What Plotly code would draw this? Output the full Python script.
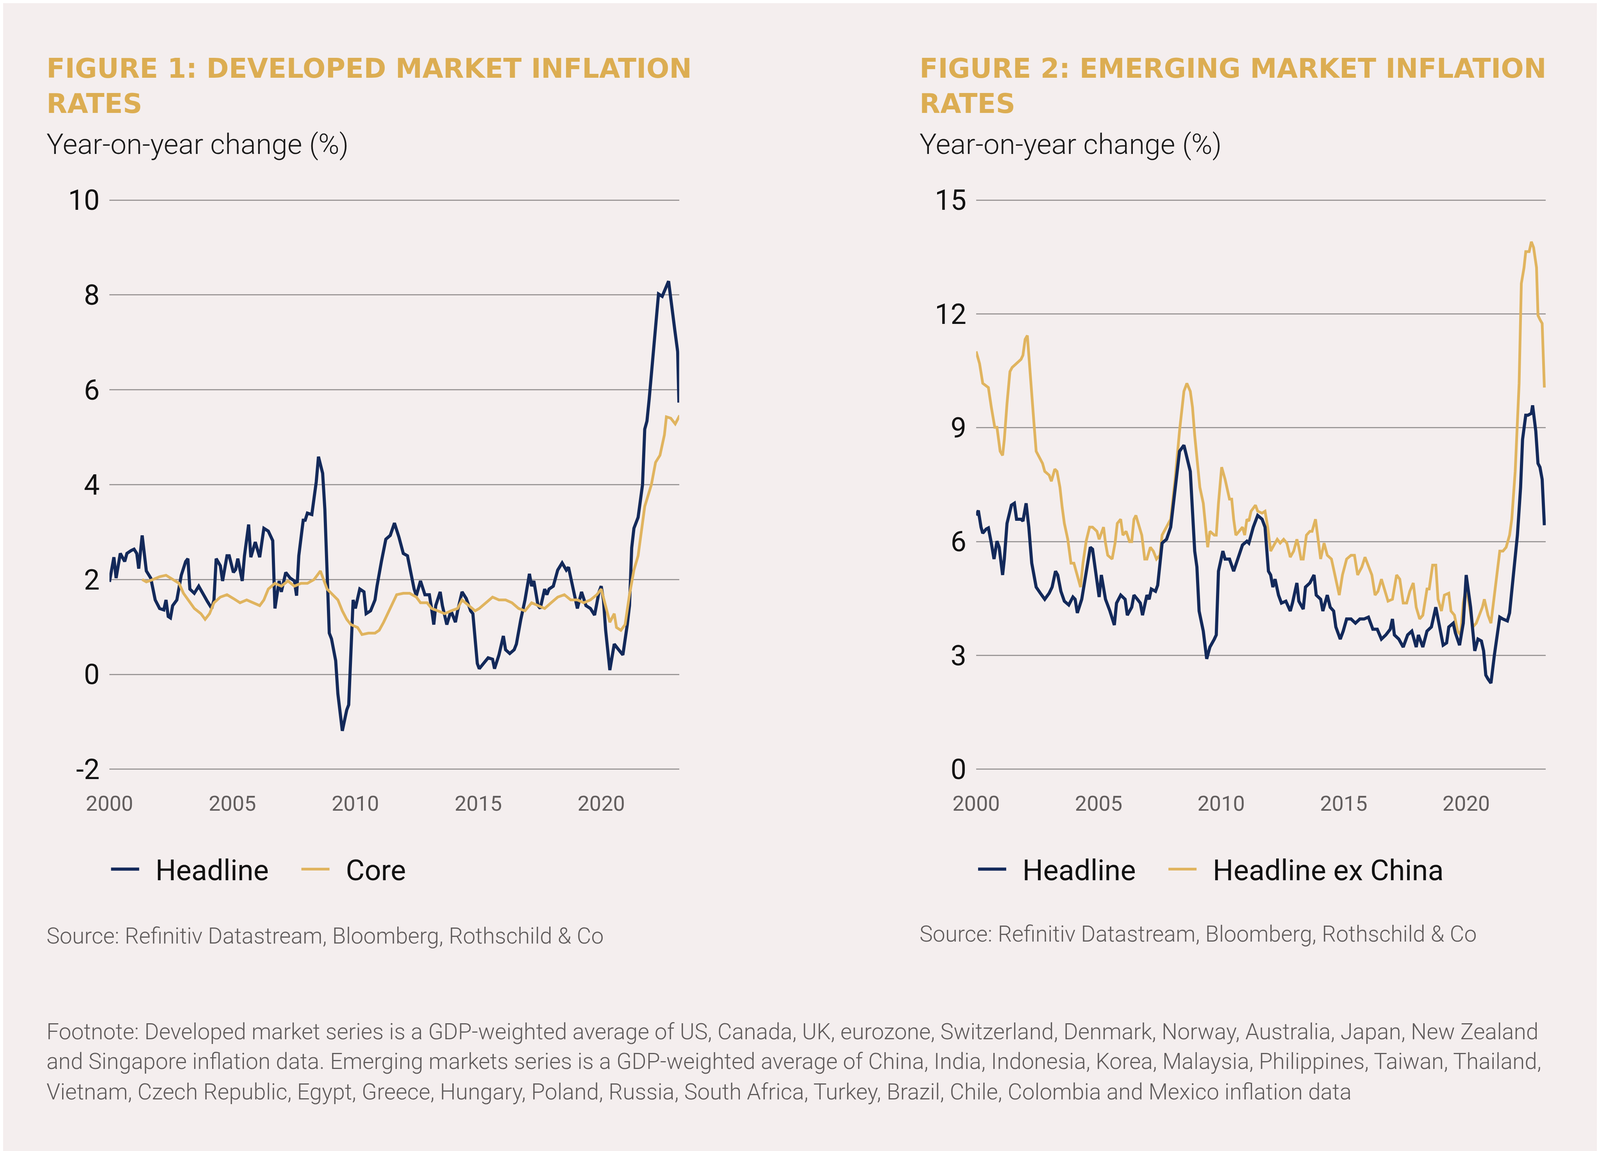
import plotly.graph_objects as go

# ---------------- data ----------------
DM_HEAD_X = [2000.00, 2000.18, 2000.27, 2000.44, 2000.62, 2000.71, 2000.88, 2001.00, 2001.11, 2001.19,
             2001.33, 2001.50, 2001.68, 2001.86, 2002.04, 2002.21, 2002.30, 2002.39, 2002.48, 2002.57,
             2002.74, 2002.92, 2003.10, 2003.19, 2003.27, 2003.45, 2003.63, 2003.81, 2003.98, 2004.16,
             2004.25, 2004.34, 2004.51, 2004.60, 2004.78, 2004.87, 2005.04, 2005.13, 2005.22, 2005.40,
             2005.49, 2005.66, 2005.75, 2005.93, 2006.11, 2006.28, 2006.46, 2006.64, 2006.73, 2006.90,
             2006.99, 2007.17, 2007.35, 2007.52, 2007.61, 2007.70, 2007.88, 2007.96, 2008.05, 2008.23,
             2008.41, 2008.50, 2008.67, 2008.76, 2008.94, 2009.03, 2009.20, 2009.29, 2009.47, 2009.65,
             2009.73, 2009.91, 2010.00, 2010.18, 2010.35, 2010.44, 2010.62, 2010.80, 2010.88, 2011.06,
             2011.24, 2011.42, 2011.59, 2011.77, 2011.95, 2012.12, 2012.21, 2012.39, 2012.48, 2012.65,
             2012.83, 2013.01, 2013.10, 2013.19, 2013.27, 2013.45, 2013.54, 2013.72, 2013.89, 2014.07,
             2014.16, 2014.34, 2014.51, 2014.69, 2014.78, 2014.96, 2015.04, 2015.22, 2015.40, 2015.58,
             2015.66, 2015.84, 2015.93, 2016.02, 2016.11, 2016.28, 2016.46, 2016.55, 2016.73, 2016.90,
             2017.08, 2017.17, 2017.26, 2017.43, 2017.52, 2017.70, 2017.79, 2017.88, 2018.05, 2018.23,
             2018.41, 2018.58, 2018.67, 2018.85, 2019.03, 2019.20, 2019.38, 2019.56, 2019.73, 2019.91,
             2020.00, 2020.09, 2020.18, 2020.35, 2020.53, 2020.71, 2020.88, 2021.06, 2021.15, 2021.24,
             2021.33, 2021.50, 2021.59, 2021.68, 2021.77, 2021.86, 2021.95, 2022.16, 2022.33, 2022.48,
             2022.74, 2022.99, 2023.11, 2023.16]
DM_HEAD_Y = [1.95, 2.47, 2.03, 2.55, 2.38, 2.55, 2.61, 2.64, 2.55, 2.23,
             2.93, 2.18, 2.03, 1.57, 1.39, 1.36, 1.57, 1.22, 1.19, 1.45,
             1.57, 2.09, 2.38, 2.44, 1.80, 1.71, 1.86, 1.68, 1.54, 1.39,
             1.57, 2.44, 2.29, 1.97, 2.50, 2.50, 2.15, 2.21, 2.44, 1.97,
             2.50, 3.16, 2.47, 2.79, 2.47, 3.08, 3.02, 2.82, 1.39, 1.97,
             1.74, 2.15, 2.03, 1.97, 1.66, 2.50, 3.25, 3.25, 3.40, 3.37,
             4.06, 4.59, 4.24, 3.48, 0.87, 0.75, 0.29, -0.41, -1.19, -0.75,
             -0.64, 1.57, 1.39, 1.80, 1.74, 1.28, 1.34, 1.57, 1.86, 2.38,
             2.85, 2.93, 3.19, 2.90, 2.55, 2.50, 2.26, 1.80, 1.66, 1.97,
             1.68, 1.68, 1.39, 1.05, 1.45, 1.74, 1.45, 1.05, 1.34, 1.10,
             1.34, 1.74, 1.60, 1.34, 1.28, 0.23, 0.12, 0.23, 0.35, 0.32,
             0.12, 0.41, 0.58, 0.81, 0.52, 0.44, 0.52, 0.64, 1.16, 1.57,
             2.12, 1.86, 1.97, 1.45, 1.39, 1.80, 1.68, 1.80, 1.86, 2.20,
             2.35, 2.20, 2.26, 1.80, 1.39, 1.74, 1.45, 1.39, 1.25, 1.74,
             1.86, 1.57, 0.93, 0.09, 0.64, 0.52, 0.41, 1.05, 1.45, 2.67,
             3.08, 3.31, 3.66, 4.00, 5.17, 5.34, 5.80, 6.98, 8.02, 7.97,
             8.29, 7.27, 6.80, 5.73]

DM_CORE_X = [2001.33, 2001.50, 2001.77, 2002.04, 2002.30, 2002.48, 2002.65, 2002.83, 2003.01, 2003.19,
             2003.45, 2003.72, 2003.89, 2004.07, 2004.25, 2004.51, 2004.78, 2005.04, 2005.31, 2005.58,
             2005.84, 2006.11, 2006.28, 2006.46, 2006.73, 2006.99, 2007.26, 2007.52, 2007.79, 2008.05,
             2008.32, 2008.58, 2008.85, 2009.12, 2009.29, 2009.47, 2009.65, 2009.82, 2010.09, 2010.27,
             2010.53, 2010.80, 2010.97, 2011.15, 2011.42, 2011.68, 2011.95, 2012.21, 2012.48, 2012.65,
             2012.92, 2013.10, 2013.36, 2013.63, 2013.89, 2014.16, 2014.34, 2014.60, 2014.87, 2015.04,
             2015.31, 2015.58, 2015.84, 2016.11, 2016.37, 2016.64, 2016.90, 2017.17, 2017.43, 2017.70,
             2017.96, 2018.23, 2018.50, 2018.76, 2019.03, 2019.29, 2019.56, 2019.82, 2020.00, 2020.18,
             2020.35, 2020.53, 2020.62, 2020.80, 2020.97, 2021.15, 2021.33, 2021.50, 2021.77, 2022.04,
             2022.21, 2022.39, 2022.57, 2022.65, 2022.83, 2023.01, 2023.19]
DM_CORE_Y = [2.00, 1.95, 2.00, 2.06, 2.09, 2.03, 1.97, 1.92, 1.71, 1.57,
             1.39, 1.28, 1.16, 1.28, 1.51, 1.63, 1.68, 1.60, 1.51, 1.57,
             1.51, 1.45, 1.57, 1.80, 1.92, 1.86, 1.97, 1.86, 1.92, 1.92,
             2.00, 2.18, 1.80, 1.66, 1.57, 1.34, 1.16, 1.05, 0.99, 0.84,
             0.87, 0.87, 0.93, 1.10, 1.39, 1.68, 1.71, 1.71, 1.63, 1.51,
             1.51, 1.39, 1.34, 1.28, 1.34, 1.39, 1.57, 1.45, 1.34, 1.39,
             1.51, 1.63, 1.57, 1.57, 1.51, 1.39, 1.34, 1.51, 1.45, 1.39,
             1.51, 1.63, 1.68, 1.57, 1.57, 1.51, 1.57, 1.68, 1.80, 1.45,
             1.10, 1.28, 0.99, 0.93, 1.05, 1.68, 2.20, 2.50, 3.54, 4.00,
             4.47, 4.62, 5.05, 5.43, 5.40, 5.28, 5.46]

EM_HEAD_X = [2000.00, 2000.09, 2000.20, 2000.27, 2000.41, 2000.50, 2000.62, 2000.73, 2000.85, 2000.94,
             2001.08, 2001.15, 2001.26, 2001.44, 2001.56, 2001.65, 2001.83, 2001.91, 2002.04, 2002.15,
             2002.27, 2002.45, 2002.62, 2002.80, 2002.98, 2003.10, 2003.24, 2003.33, 2003.46, 2003.60,
             2003.78, 2003.95, 2004.04, 2004.13, 2004.31, 2004.49, 2004.66, 2004.75, 2004.93, 2005.02,
             2005.11, 2005.28, 2005.46, 2005.64, 2005.73, 2005.90, 2006.08, 2006.17, 2006.35, 2006.44,
             2006.58, 2006.70, 2006.79, 2006.97, 2007.06, 2007.15, 2007.32, 2007.41, 2007.59, 2007.77,
             2007.94, 2008.12, 2008.30, 2008.48, 2008.65, 2008.74, 2008.92, 2009.01, 2009.10, 2009.27,
             2009.41, 2009.54, 2009.72, 2009.80, 2009.89, 2010.07, 2010.16, 2010.34, 2010.51, 2010.69,
             2010.87, 2011.05, 2011.13, 2011.31, 2011.49, 2011.67, 2011.79, 2011.93, 2012.02, 2012.11,
             2012.20, 2012.34, 2012.46, 2012.64, 2012.82, 2012.91, 2013.09, 2013.17, 2013.35, 2013.44,
             2013.62, 2013.79, 2013.88, 2014.06, 2014.15, 2014.33, 2014.45, 2014.59, 2014.68, 2014.86,
             2014.98, 2015.12, 2015.30, 2015.48, 2015.66, 2015.83, 2016.01, 2016.19, 2016.37, 2016.54,
             2016.72, 2016.90, 2016.99, 2017.07, 2017.25, 2017.43, 2017.61, 2017.78, 2017.96, 2018.05,
             2018.23, 2018.40, 2018.58, 2018.76, 2018.94, 2019.06, 2019.20, 2019.29, 2019.47, 2019.56,
             2019.73, 2019.88, 2020.00, 2020.18, 2020.27, 2020.35, 2020.48, 2020.62, 2020.71, 2020.80,
             2020.89, 2021.01, 2021.15, 2021.29, 2021.37, 2021.50, 2021.68, 2021.77, 2021.95, 2022.09,
             2022.22, 2022.30, 2022.43, 2022.52, 2022.66, 2022.71, 2022.84, 2022.93, 2023.01, 2023.10,
             2023.19]
EM_HEAD_Y = [6.69, 6.82, 6.38, 6.22, 6.33, 6.36, 5.96, 5.54, 6.01, 5.85,
             5.12, 5.54, 6.48, 6.96, 7.01, 6.59, 6.59, 6.54, 7.01, 6.38,
             5.43, 4.80, 4.64, 4.48, 4.64, 4.80, 5.22, 5.12, 4.69, 4.43,
             4.33, 4.54, 4.48, 4.12, 4.48, 5.22, 5.85, 5.80, 4.91, 4.54,
             5.12, 4.48, 4.17, 3.80, 4.38, 4.59, 4.48, 4.06, 4.27, 4.59,
             4.48, 4.38, 4.06, 4.59, 4.48, 4.75, 4.69, 4.85, 5.96, 6.06,
             6.38, 7.43, 8.38, 8.54, 8.06, 7.85, 5.75, 5.33, 4.17, 3.64,
             2.91, 3.22, 3.43, 3.54, 5.22, 5.75, 5.54, 5.54, 5.22, 5.54,
             5.91, 6.01, 5.96, 6.38, 6.69, 6.59, 6.38, 5.22, 5.12, 4.80,
             5.01, 4.59, 4.38, 4.43, 4.17, 4.38, 4.91, 4.43, 4.22, 4.80,
             4.91, 5.12, 4.59, 4.48, 4.17, 4.59, 4.27, 4.17, 3.75, 3.43,
             3.64, 3.96, 3.96, 3.85, 3.96, 3.96, 4.01, 3.69, 3.69, 3.43,
             3.54, 3.69, 3.96, 3.54, 3.43, 3.22, 3.54, 3.64, 3.22, 3.54,
             3.22, 3.64, 3.75, 4.27, 3.64, 3.27, 3.33, 3.75, 3.85, 3.59,
             3.27, 3.85, 5.12, 4.27, 3.64, 3.12, 3.43, 3.38, 3.12, 2.48,
             2.38, 2.27, 3.01, 3.64, 4.01, 3.96, 3.91, 4.12, 5.22, 6.17,
             7.43, 8.69, 9.33, 9.33, 9.38, 9.59, 8.91, 8.06, 7.96, 7.64,
             6.43]

EM_EXCN_X = [2000.00, 2000.14, 2000.27, 2000.37, 2000.50, 2000.62, 2000.76, 2000.85, 2000.98, 2001.08,
             2001.15, 2001.26, 2001.38, 2001.47, 2001.65, 2001.83, 2001.91, 2002.00, 2002.09, 2002.18,
             2002.27, 2002.36, 2002.45, 2002.62, 2002.71, 2002.80, 2002.98, 2003.07, 2003.21, 2003.30,
             2003.42, 2003.51, 2003.60, 2003.74, 2003.87, 2003.99, 2004.13, 2004.26, 2004.36, 2004.49,
             2004.63, 2004.75, 2004.93, 2005.02, 2005.20, 2005.28, 2005.37, 2005.55, 2005.67, 2005.76,
             2005.90, 2005.99, 2006.12, 2006.26, 2006.35, 2006.44, 2006.52, 2006.65, 2006.76, 2006.88,
             2006.97, 2007.11, 2007.23, 2007.36, 2007.50, 2007.59, 2007.77, 2007.94, 2008.12, 2008.30,
             2008.48, 2008.60, 2008.74, 2008.83, 2008.92, 2009.01, 2009.13, 2009.27, 2009.36, 2009.45,
             2009.54, 2009.72, 2009.80, 2009.89, 2010.02, 2010.16, 2010.34, 2010.43, 2010.51, 2010.60,
             2010.73, 2010.87, 2010.96, 2011.05, 2011.13, 2011.22, 2011.40, 2011.49, 2011.67, 2011.79,
             2011.90, 2012.02, 2012.20, 2012.29, 2012.41, 2012.55, 2012.68, 2012.82, 2012.96, 2013.09,
             2013.17, 2013.26, 2013.35, 2013.48, 2013.62, 2013.71, 2013.85, 2013.97, 2014.06, 2014.20,
             2014.33, 2014.50, 2014.68, 2014.82, 2014.95, 2015.12, 2015.30, 2015.44, 2015.57, 2015.74,
             2015.87, 2016.01, 2016.15, 2016.28, 2016.40, 2016.54, 2016.68, 2016.81, 2016.99, 2017.16,
             2017.29, 2017.43, 2017.57, 2017.70, 2017.84, 2017.96, 2018.10, 2018.23, 2018.40, 2018.49,
             2018.63, 2018.76, 2018.85, 2018.99, 2019.11, 2019.29, 2019.38, 2019.52, 2019.65, 2019.77,
             2019.88, 2020.00, 2020.14, 2020.27, 2020.41, 2020.53, 2020.66, 2020.74, 2020.89, 2021.01,
             2021.15, 2021.29, 2021.37, 2021.50, 2021.63, 2021.77, 2021.86, 2022.00, 2022.09, 2022.16,
             2022.25, 2022.36, 2022.43, 2022.57, 2022.66, 2022.75, 2022.87, 2022.93, 2023.01, 2023.10,
             2023.19]
EM_EXCN_Y = [11.01, 10.69, 10.17, 10.12, 10.06, 9.54, 9.01, 9.01, 8.38, 8.27,
             8.69, 9.64, 10.48, 10.59, 10.69, 10.80, 10.91, 11.33, 11.43, 10.59,
             9.75, 9.12, 8.38, 8.17, 8.06, 7.85, 7.75, 7.59, 7.91, 7.85,
             7.43, 6.91, 6.48, 6.06, 5.43, 5.43, 5.12, 4.80, 5.43, 6.01,
             6.38, 6.38, 6.27, 6.06, 6.38, 5.96, 5.64, 5.54, 5.96, 6.48,
             6.59, 6.17, 6.27, 6.00, 6.00, 6.59, 6.69, 6.38, 6.17, 5.54,
             5.54, 5.85, 5.75, 5.54, 5.64, 6.17, 6.38, 6.59, 7.64, 8.91,
             9.96, 10.17, 9.96, 9.54, 8.80, 8.27, 7.43, 7.01, 6.38, 5.85,
             6.27, 6.17, 6.17, 7.01, 7.96, 7.64, 7.12, 7.12, 6.59, 6.17,
             6.27, 6.38, 6.17, 6.59, 6.54, 6.80, 6.96, 6.80, 6.75, 6.80,
             6.38, 5.75, 5.96, 6.06, 5.96, 6.06, 5.96, 5.59, 5.75, 6.06,
             5.85, 5.54, 5.54, 6.17, 6.27, 6.27, 6.59, 6.06, 5.54, 5.96,
             5.64, 5.54, 5.01, 4.59, 5.12, 5.54, 5.64, 5.64, 5.12, 5.33,
             5.59, 5.33, 5.12, 4.59, 4.69, 5.01, 4.69, 4.43, 4.48, 5.12,
             5.01, 4.38, 4.38, 4.69, 4.91, 4.27, 3.96, 4.06, 4.75, 4.75,
             5.38, 5.38, 4.48, 4.17, 4.59, 4.64, 4.17, 4.06, 3.64, 3.54,
             4.38, 4.80, 4.27, 3.75, 3.85, 4.06, 4.27, 4.48, 4.06, 3.85,
             4.59, 5.22, 5.75, 5.75, 5.85, 6.17, 6.59, 7.85, 9.33, 10.17,
             12.80, 13.22, 13.64, 13.64, 13.90, 13.75, 13.22, 11.96, 11.85, 11.75,
             10.06]

X_TICKS = [2000, 2005, 2010, 2015, 2020]
DM_Y_TICKS = [-2, 0, 2, 4, 6, 8, 10]
DM_Y_TICK_TEXT = ["-2", "0", "2", "4", "6", "8", "10"]
EM_Y_TICKS = [0, 3, 6, 9, 12, 15]

TITLE_1 = "FIGURE 1: DEVELOPED MARKET INFLATION<br>RATES"
TITLE_2 = "FIGURE 2: EMERGING MARKET INFLATION<br>RATES"
SUBTITLE = "Year-on-year change (%)"
SOURCE = "Source: Refinitiv Datastream, Bloomberg, Rothschild & Co"
FOOTNOTE_LINES = [
    "Footnote: Developed market series is a GDP-weighted average of US, Canada, UK, eurozone, Switzerland, Denmark, Norway, Australia, Japan, New Zealand",
    "and Singapore inflation data. Emerging markets series is a GDP-weighted average of China, India, Indonesia, Korea, Malaysia, Philippines, Taiwan, Thailand,",
    "Vietnam, Czech Republic, Egypt, Greece, Hungary, Poland, Russia, South Africa, Turkey, Brazil, Chile, Colombia and Mexico inflation data",
]

# ---------------- geometry ----------------
# The page is shown in a 4096x2946 viewport with the default 8px body margin,
# so the figure is sized to fill exactly what is visible.
VIEW_W, VIEW_H = 4096, 2946
BODY_MARGIN = 8
FIG_W, FIG_H = VIEW_W - BODY_MARGIN, VIEW_H - BODY_MARGIN
REF_W, REF_H = 4224, 2946          # layout positions below are measured in reference pixels


def px(rx):
    return (rx * VIEW_W / REF_W - BODY_MARGIN) / FIG_W


def py(ry):
    return 1 - (ry * VIEW_H / REF_H - BODY_MARGIN) / FIG_H


# ---------------- style ----------------
BG = "#f4eeee"
NAVY = "#13295a"
GOLD = "#e0b45f"
TITLE_GOLD = "#dcad52"
GRID = "#9c9898"
FONT = "Roboto"
LEAD = "\u00a0\u00a0"
TRAIL = "\u00a0\u00a0\u00a0\u00a0"

fig = go.Figure()
fig.add_trace(go.Scatter(x=DM_HEAD_X, y=DM_HEAD_Y, mode="lines", name=LEAD + "Headline" + TRAIL,
                         line=dict(color=NAVY, width=8), xaxis="x", yaxis="y", legend="legend"))
fig.add_trace(go.Scatter(x=DM_CORE_X, y=DM_CORE_Y, mode="lines", name=LEAD + "Core",
                         line=dict(color=GOLD, width=7), xaxis="x", yaxis="y", legend="legend"))
fig.add_trace(go.Scatter(x=EM_EXCN_X, y=EM_EXCN_Y, mode="lines", name=LEAD + "Headline ex China",
                         line=dict(color=GOLD, width=7), xaxis="x2", yaxis="y2", legend="legend2"))
fig.add_trace(go.Scatter(x=EM_HEAD_X, y=EM_HEAD_Y, mode="lines", name=LEAD + "Headline" + TRAIL,
                         line=dict(color=NAVY, width=8), xaxis="x2", yaxis="y2", legend="legend2"))

ydom = [py(1975), py(506)]

xcommon = dict(tickvals=X_TICKS, showgrid=False, zeroline=False, showline=False, ticks="",
               tickfont=dict(family=FONT, size=54, color="#625e5e", weight=400),
               ticklabelstandoff=45, fixedrange=True, automargin=False)
ycommon = dict(showgrid=True, gridcolor=GRID, gridwidth=3, zeroline=False, showline=False, ticks="",
               tickfont=dict(family=FONT, size=72, color="#111111", weight=400),
               ticklabelstandoff=24, fixedrange=True, automargin=False)

legcommon = dict(orientation="h", xanchor="left", yanchor="middle",
                 font=dict(family=FONT, size=74, color="#111111"), bgcolor="rgba(0,0,0,0)",
                 itemwidth=72)

fig.update_layout(
    width=FIG_W, height=FIG_H,
    paper_bgcolor=BG, plot_bgcolor=BG,
    margin=dict(l=0, r=0, t=0, b=0, pad=0, autoexpand=False),
    xaxis=dict(domain=[px(289), px(1793)], range=[2000, 2023.17], anchor="y", **xcommon),
    yaxis=dict(domain=ydom, range=[-2.05, 10.05], tickvals=DM_Y_TICKS, ticktext=DM_Y_TICK_TEXT,
               anchor="x", **ycommon),
    xaxis2=dict(domain=[px(2577), px(4081)], range=[2000, 2023.25], anchor="y2", **xcommon),
    yaxis2=dict(domain=ydom, range=[-0.062, 15.062], tickvals=EM_Y_TICKS, anchor="x2", **ycommon),
    legend=dict(x=px(288), y=py(2225), traceorder="normal", **legcommon),
    legend2=dict(x=px(2577), y=py(2225), traceorder="reversed", **legcommon),
    showlegend=True,
)

annotations = []
for xl, t in [(121, TITLE_1), (2425, TITLE_2)]:
    annotations.append(dict(x=px(xl), y=py(220), xref="paper", yref="paper", text=t, showarrow=False,
                            xanchor="left", yanchor="middle", align="left",
                            font=dict(family="DejaVu Sans", size=69, color=TITLE_GOLD, weight="bold")))
    annotations.append(dict(x=px(xl), y=py(369), xref="paper", yref="paper", text=SUBTITLE, showarrow=False,
                            xanchor="left", yanchor="middle", align="left",
                            font=dict(family=FONT, size=73, color="#1a1a1a", weight=300)))
annotations.append(dict(x=px(121), y=py(2395), xref="paper", yref="paper", text=SOURCE, showarrow=False,
                        xanchor="left", yanchor="middle",
                        font=dict(family=FONT, size=57, color="#5f5b5b", weight=300)))
annotations.append(dict(x=px(2425), y=py(2390), xref="paper", yref="paper", text=SOURCE, showarrow=False,
                        xanchor="left", yanchor="middle",
                        font=dict(family=FONT, size=57, color="#5f5b5b", weight=300)))
for yl, line in zip([2640, 2716, 2794], FOOTNOTE_LINES):
    annotations.append(dict(x=px(121), y=py(yl), xref="paper", yref="paper", text=line, showarrow=False,
                            xanchor="left", yanchor="middle",
                            font=dict(family=FONT, size=57, color="#5f5b5b", weight=300)))
fig.update_layout(annotations=annotations)

fig.write_html("out.html")
